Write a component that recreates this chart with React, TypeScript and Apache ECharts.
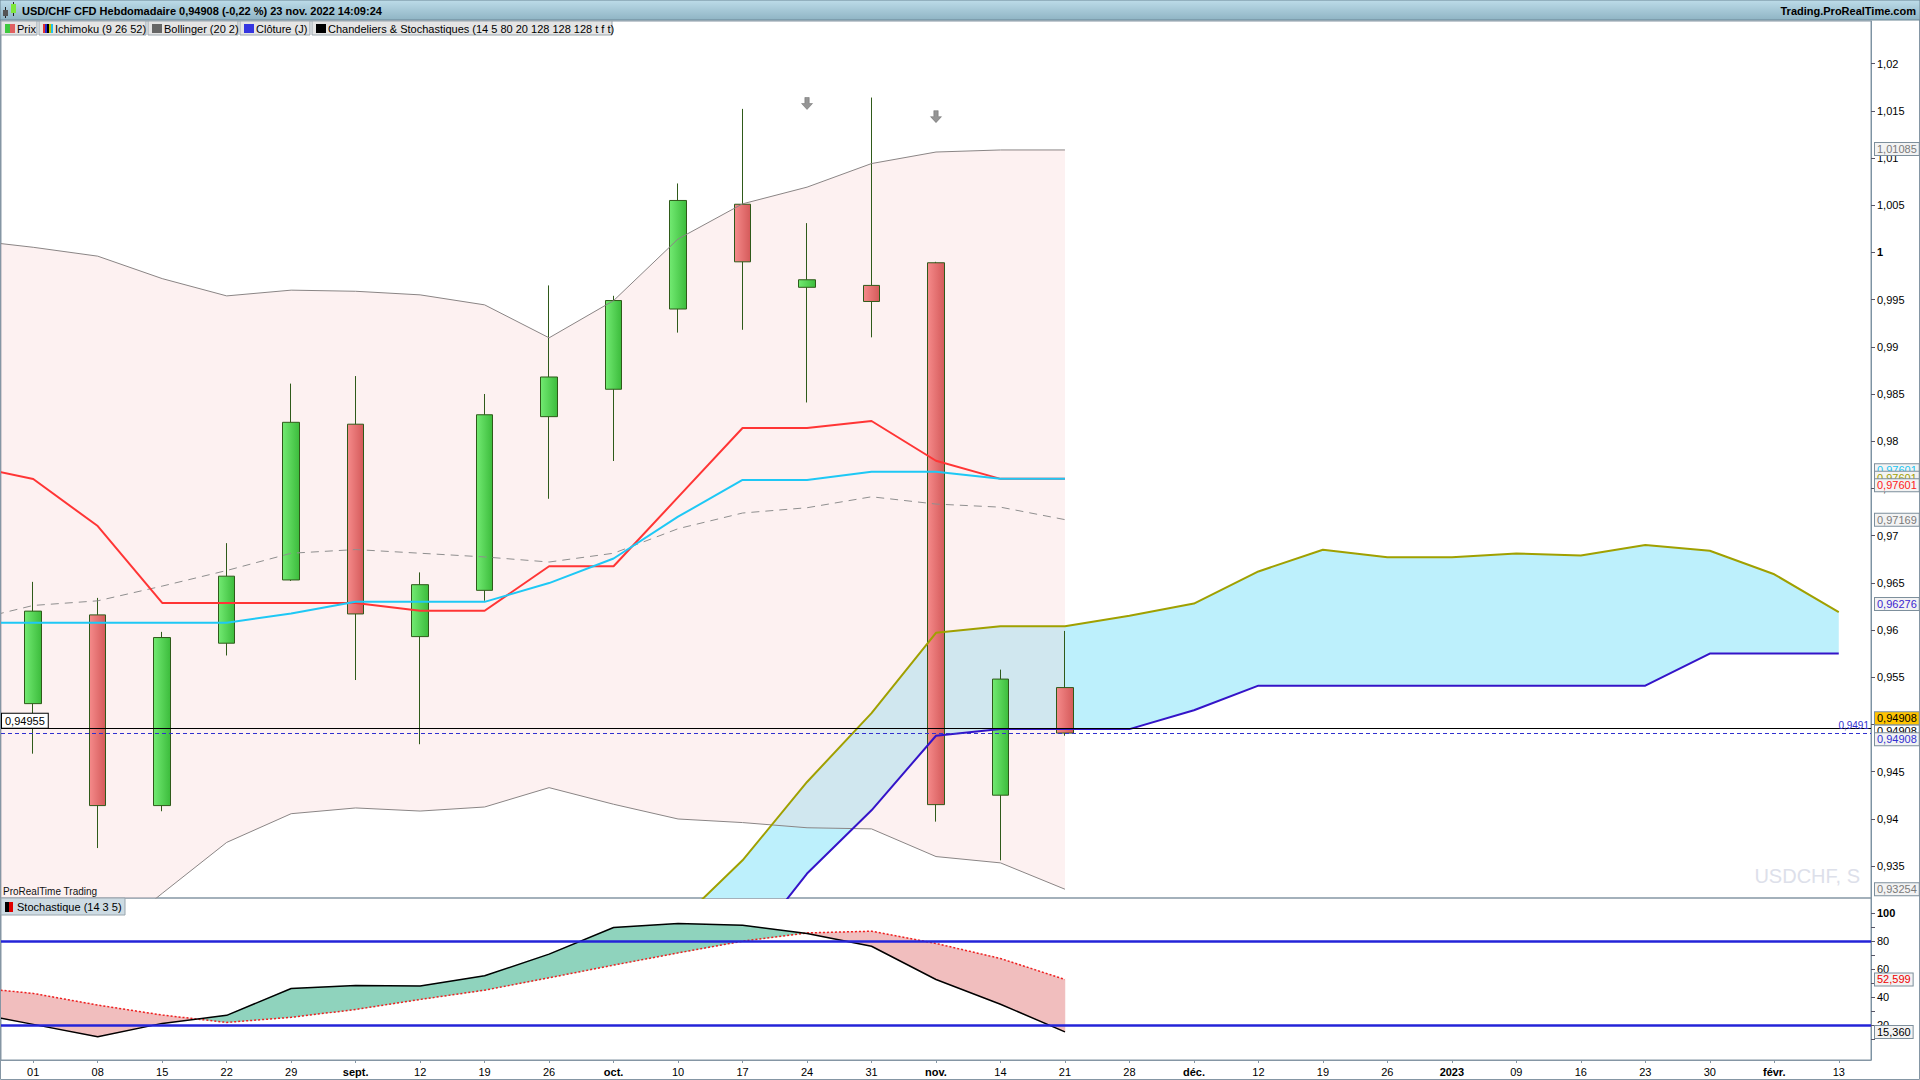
import React, { useEffect, useRef } from "react";
import * as echarts from "echarts";

const FONT = '"Liberation Sans", Arial, sans-serif';

// ---------- categories ----------
const weekDates = [
  "2022-08-01", "2022-08-08", "2022-08-15", "2022-08-22", "2022-08-29",
  "2022-09-05", "2022-09-12", "2022-09-19", "2022-09-26",
  "2022-10-03", "2022-10-10", "2022-10-17", "2022-10-24", "2022-10-31",
  "2022-11-07", "2022-11-14", "2022-11-21", "2022-11-28",
  "2022-12-05", "2022-12-12", "2022-12-19", "2022-12-26",
  "2023-01-02", "2023-01-09", "2023-01-16", "2023-01-23", "2023-01-30",
  "2023-02-06", "2023-02-13",
];
const weekLabels = [
  "01", "08", "15", "22", "29", "sept.", "12", "19", "26", "oct.", "10", "17", "24", "31",
  "nov.", "14", "21", "28", "déc.", "12", "19", "26", "2023", "09", "16", "23", "30", "févr.", "13",
];
const boldWeekLabels = ["sept.", "oct.", "nov.", "déc.", "2023", "févr."];

// ---------- candles (weekly, from 01 Aug to 21 Nov) ----------
const candleOpen = [0.9522, 0.9616, 0.9414, 0.9586, 0.9653, 0.9818, 0.9593, 0.9642, 0.9826, 0.9855, 0.9940, 1.0051, 0.9963, 0.9965, 0.9989, 0.9425, 0.9539];
const candleClose = [0.9620, 0.9414, 0.9592, 0.9657, 0.9820, 0.9617, 0.9648, 0.9828, 0.9868, 0.9949, 1.0055, 0.9990, 0.9971, 0.9948, 0.9415, 0.9548, 0.94908];
const candleLow = [0.9469, 0.9369, 0.9408, 0.9573, 0.9652, 0.9547, 0.9479, 0.9631, 0.9739, 0.9779, 0.9915, 0.9918, 0.9841, 0.9910, 0.9397, 0.9356, 0.9488];
const candleHigh = [0.9651, 0.9634, 0.9598, 0.9692, 0.9861, 0.9869, 0.9661, 0.9850, 0.9965, 0.9954, 1.0073, 1.0152, 1.0031, 1.0164, 0.9990, 0.9558, 0.9599];

// ---------- indicators (first value = week before "01") ----------
const IND_START = -1;
const bbUpper = [1.00132, 1.00054, 0.9996, 0.99722, 0.99539, 0.996, 0.99588, 0.9955, 0.99444, 0.99095, 0.99489, 1.00142, 1.00514, 1.00691, 1.00941, 1.01063, 1.01085, 1.01085];
const bbMiddle = [0.96093, 0.9626, 0.96309, 0.96465, 0.9663, 0.96813, 0.96852, 0.96813, 0.96774, 0.9672, 0.96813, 0.97073, 0.97239, 0.97295, 0.97411, 0.97334, 0.97301, 0.97169];
const bbLower = [0.9205, 0.9247, 0.9266, 0.9321, 0.9375, 0.94054, 0.94115, 0.94082, 0.94125, 0.9433, 0.94154, 0.93998, 0.9396, 0.93905, 0.93893, 0.936, 0.93533, 0.93254];
const tenkan = [0.97745, 0.97599, 0.97101, 0.96287, 0.96287, 0.96287, 0.96287, 0.96204, 0.96204, 0.96675, 0.96675, 0.97407, 0.9814, 0.9814, 0.98214, 0.97793, 0.97601, 0.97601];
const kijun = [0.96077, 0.96077, 0.96077, 0.96077, 0.96077, 0.96175, 0.96298, 0.96298, 0.96298, 0.96497, 0.96757, 0.972, 0.97589, 0.97589, 0.97677, 0.97677, 0.97601, 0.97601];

// Senkou spans (projected 26 weeks ahead), first value = week "10" (Oct)
const SENKOU_START = 10;
const senkouA = [0.929, 0.9356, 0.9439, 0.9512, 0.9597, 0.9604, 0.9604, 0.9615, 0.9628, 0.9662, 0.9685, 0.9677, 0.9677, 0.9681, 0.9679, 0.969, 0.9684, 0.9659, 0.9619];
const senkouB = [0.917, 0.9255, 0.9342, 0.9409, 0.9488, 0.9495, 0.9495, 0.9495, 0.9515, 0.9541, 0.9541, 0.9541, 0.9541, 0.9541, 0.9541, 0.9541, 0.9575, 0.9575, 0.9575];
// current (not yet projected) span values shown on the price scale
const senkouANow = 0.97601;
const senkouBNow = 0.96276;

// Stochastic (14 3 5), first value = week before "01"
const stochK = [29.4, 20.7, 11.9, 21.4, 27.1, 46.2, 48.4, 47.9, 55.2, 70.6, 89.5, 92.3, 91.1, 85.2, 76.2, 52.6, 35.0, 15.36];
const stochD = [47.2, 42.7, 34.4, 27.3, 22.1, 25.7, 31.3, 38.4, 45.0, 53.8, 62.8, 71.5, 79.8, 85.7, 86.9, 78.2, 67.5, 52.599];
const stochLevels = [80, 20];

// pattern signals (down arrows)
const arrowWeeks = [12, 14];
const arrowLevels = [1.01577, 1.01438];

// levels
const lastClose = 0.94908;
const hLineLevel = 0.94955;
const closeLineLevel = 0.9491;

// axis ticks
const priceTicks = [0.935, 0.94, 0.945, 0.95, 0.955, 0.96, 0.965, 0.97, 0.975, 0.98, 0.985, 0.99, 0.995, 1, 1.005, 1.01, 1.015, 1.02];
const stochTickValues = [10, 20, 30, 40, 50, 60, 70, 80, 90, 100];
const stochLabelValues = [20, 40, 60, 80, 100];

const toPairs = (start: number, arr: number[]) => arr.map((v, i) => [start + i, v]);
const fr = (v: number, d: number) => v.toFixed(d).replace(".", ",");

function bandRenderer(start: number, top: number[], bottom: number[], fill: string) {
  return (params: any, api: any) => {
    if (params.dataIndex !== 0) return null;
    const pts: number[][] = [];
    top.forEach((v, i) => pts.push(api.coord([start + i, v])));
    for (let i = bottom.length - 1; i >= 0; i--) pts.push(api.coord([start + i, bottom[i]]));
    return { type: "polygon", shape: { points: pts }, style: { fill } };
  };
}

function stochFillRenderer(start: number, k: number[], d: number[], up: string, down: string) {
  return (params: any, api: any) => {
    if (params.dataIndex !== 0) return null;
    const pts = k.map((kv, i) => ({
      k: api.coord([start + i, kv]),
      d: api.coord([start + i, d[i]]),
      diff: kv - d[i],
    }));
    const children: any[] = [];
    let curK: number[][] = [pts[0].k];
    let curD: number[][] = [pts[0].d];
    let sign = Math.sign(pts[0].diff);
    const flush = () => {
      const c = sign >= 0 ? up : down;
      children.push({
        type: "polygon",
        shape: { points: curK.concat(curD.slice().reverse()) },
        style: { fill: c, stroke: c, lineWidth: 0.5 },
      });
    };
    for (let i = 1; i < pts.length; i++) {
      const p = pts[i - 1];
      const c = pts[i];
      const s = Math.sign(c.diff);
      if (s !== 0 && sign !== 0 && s !== sign) {
        const t = p.diff / (p.diff - c.diff);
        const ix = [p.k[0] + t * (c.k[0] - p.k[0]), p.k[1] + t * (c.k[1] - p.k[1])];
        curK.push(ix);
        curD.push(ix);
        flush();
        curK = [ix];
        curD = [ix];
        sign = s;
      }
      curK.push(c.k);
      curD.push(c.d);
      if (sign === 0) sign = s;
    }
    flush();
    return { type: "group", children };
  };
}

const sq = (x: number, y: number, w: number, h: number, fill: string) => ({
  type: "rect",
  shape: { x, y, width: w, height: h },
  style: { fill },
  z: 101,
});

const legendBox = (x: number, w: number, y: number, h: number, text: string, icons: any[], bg: string) => [
  { type: "rect", shape: { x, y, width: w, height: h }, style: { fill: bg, stroke: "#9aa6ae", lineWidth: 1 }, z: 100 },
  ...icons,
  {
    type: "text",
    x: x + 16,
    y: y + h / 2 + 0.5,
    style: { text, font: `11px ${FONT}`, fill: "#000", textVerticalAlign: "middle", verticalAlign: "middle" },
    z: 101,
  },
];

function baseGraphic(): any[] {
  return [
    {
      type: "rect",
      shape: { x: 0, y: 0, width: 1920, height: 20 },
      style: {
        fill: new echarts.graphic.LinearGradient(0, 0, 0, 1, [
          { offset: 0, color: "#bddce9" },
          { offset: 1, color: "#8fb4c4" },
        ]),
        stroke: "#6b8594",
        lineWidth: 1,
      },
      z: 100,
    },
    { type: "line", shape: { x1: 5.5, y1: 7, x2: 5.5, y2: 18 }, style: { stroke: "#222", lineWidth: 1 }, z: 101 },
    sq(3, 10, 5, 6, "#555"),
    { type: "line", shape: { x1: 13.5, y1: 2, x2: 13.5, y2: 16 }, style: { stroke: "#222", lineWidth: 1 }, z: 101 },
    sq(11, 4, 5, 9, "#7ee63c"),
    {
      type: "text",
      x: 22,
      y: 10.5,
      style: {
        text: "USD/CHF CFD Hebdomadaire 0,94908 (-0,22 %) 23 nov. 2022 14:09:24",
        font: `bold 11px ${FONT}`,
        fill: "#000",
        textVerticalAlign: "middle",
        verticalAlign: "middle",
      },
      z: 101,
    },
    {
      type: "text",
      x: 1916,
      y: 10.5,
      style: {
        text: "Trading.ProRealTime.com",
        font: `bold 11px ${FONT}`,
        fill: "#000",
        textAlign: "right",
        align: "right",
        textVerticalAlign: "middle",
        verticalAlign: "middle",
      },
      z: 101,
    },
    ...legendBox(1, 36, 21, 14, "Prix", [sq(5, 24, 5, 9, "#3ec83e"), sq(10, 24, 5, 9, "#e06060")], "#e4e4e4"),
    ...legendBox(39, 107, 21, 14, "Ichimoku (9 26 52)", [
      sq(43, 24, 2, 9, "#e03030"), sq(45, 24, 2, 9, "#2a2ad0"), sq(47, 24, 2, 9, "#000"),
      sq(49, 24, 2, 9, "#c8c800"), sq(51, 24, 2, 9, "#20c0f0"),
    ], "#e4e4e4"),
    ...legendBox(148, 90, 21, 14, "Bollinger (20 2)", [sq(152, 24, 10, 9, "#666")], "#e4e4e4"),
    ...legendBox(240, 70, 21, 14, "Clôture (J)", [sq(244, 24, 10, 9, "#3535e0")], "#e4e4e4"),
    ...legendBox(312, 300, 21, 14, "Chandeliers & Stochastiques (14 5 80 20 128 128 128 t f t)", [sq(316, 24, 10, 9, "#000")], "#e4e4e4"),
    {
      type: "text",
      x: 3,
      y: 891,
      style: { text: "ProRealTime Trading", font: `10px ${FONT}`, fill: "#111", textVerticalAlign: "middle", verticalAlign: "middle" },
      z: 101,
    },
    {
      type: "text",
      x: 1860,
      y: 876,
      style: {
        text: "USDCHF, S",
        font: `20px ${FONT}`,
        fill: "#dde0ea",
        textAlign: "right",
        align: "right",
        textVerticalAlign: "middle",
        verticalAlign: "middle",
      },
      z: 50,
    },
    ...legendBox(1, 124, 898, 17, "Stochastique (14 3 5)", [sq(5, 902, 4, 10, "#000"), sq(9, 902, 4, 10, "#e00000")], "#cddbe3"),
    { type: "rect", shape: { x: 0.5, y: 0.5, width: 1919, height: 1079 }, style: { fill: "none", stroke: "#8596a4", lineWidth: 1 }, z: 99 },
  ];
}

// value boxes on the right scales: [axis, value, text, color, background, vertical nudge px]
const valueBoxes: [number, number, string, string, string, number][] = [
  [0, bbUpper[bbUpper.length - 1], fr(bbUpper[bbUpper.length - 1], 5), "#7a7a7a", "#f3f3f3", -1],
  [0, kijun[kijun.length - 1], fr(kijun[kijun.length - 1], 5), "#19c4f2", "#f3f3f3", -8.5],
  [0, senkouANow, fr(senkouANow, 5), "#a0a000", "#f3f3f3", -1],
  [0, tenkan[tenkan.length - 1], fr(tenkan[tenkan.length - 1], 5), "#ff2020", "#f3f3f3", 6.3],
  [0, bbMiddle[bbMiddle.length - 1], fr(bbMiddle[bbMiddle.length - 1], 5), "#7a7a7a", "#f3f3f3", 0],
  [0, senkouBNow, fr(senkouBNow, 5), "#3b1fd0", "#f3f3f3", 0],
  [0, lastClose, fr(lastClose, 5), "#000", "#ffffff", -1.6],
  [0, lastClose, fr(lastClose, 5), "#000", "#ffc400", -14.8],
  [0, lastClose, fr(lastClose, 5), "#3030d0", "#f3f3f3", 6.2],
  [0, bbLower[bbLower.length - 1], fr(bbLower[bbLower.length - 1], 5), "#7a7a7a", "#f3f3f3", 0],
  [1, stochD[stochD.length - 1], fr(stochD[stochD.length - 1], 3), "#ee0000", "#f3f3f3", 0],
  [1, stochK[stochK.length - 1], fr(stochK[stochK.length - 1], 3), "#000", "#f3f3f3", 0],
];

function buildOption() {
  const greenBody = new echarts.graphic.LinearGradient(0, 0, 1, 0, [
    { offset: 0, color: "#72ea72" },
    { offset: 1, color: "#3cbc3c" },
  ]);
  const redBody = new echarts.graphic.LinearGradient(0, 0, 1, 0, [
    { offset: 0, color: "#f58a8a" },
    { offset: 1, color: "#d45a5a" },
  ]);

  const priceFormatter = (v: number) => {
    const s = parseFloat(v.toFixed(4)).toString().replace(".", ",");
    return Math.abs(v - 1) < 1e-9 ? `{b|${s}}` : s;
  };

  const lineBase = {
    type: "line",
    xAxisIndex: 1,
    yAxisIndex: 0,
    symbol: "none",
    showSymbol: false,
    clip: true,
    silent: true,
    z: 3,
  };

  const yAxisCommon = {
    type: "value",
    position: "right",
    axisLine: { show: true, onZero: false, lineStyle: { color: "#7d93a3" } },
    splitLine: { show: false },
  };

  const option: any = {
    animation: false,
    backgroundColor: "#ffffff",
    textStyle: { fontFamily: FONT },
    graphic: baseGraphic(),
    grid: [
      { left: 1, right: 49, top: 21, bottom: 182, show: true, borderColor: "#8596a4", borderWidth: 1, backgroundColor: "transparent" },
      { left: 1, right: 49, top: 898, bottom: 20, show: true, borderColor: "#8596a4", borderWidth: 1, backgroundColor: "transparent" },
    ],
    xAxis: [
      { type: "category", gridIndex: 0, data: weekDates, show: false, boundaryGap: true, axisLine: { onZero: false } },
      { type: "value", gridIndex: 0, min: -0.5, max: 28.5, show: false, splitLine: { show: false }, axisLine: { onZero: false } },
      {
        type: "category",
        gridIndex: 1,
        data: weekDates,
        boundaryGap: true,
        axisLine: { show: true, onZero: false, lineStyle: { color: "#8596a4" } },
        axisTick: { show: true, alignWithLabel: true, length: 3, lineStyle: { color: "#8596a4" } },
        axisLabel: {
          interval: 0,
          margin: 6,
          fontSize: 11,
          color: "#000",
          fontFamily: FONT,
          formatter: (_v: string, i: number) =>
            boldWeekLabels.includes(weekLabels[i]) ? `{b|${weekLabels[i]}}` : weekLabels[i],
          rich: { b: { fontWeight: "bold", fontSize: 11, fontFamily: FONT, color: "#000" } },
        },
        splitLine: { show: false },
      },
      { type: "value", gridIndex: 1, min: -0.5, max: 28.5, show: false, splitLine: { show: false }, axisLine: { onZero: false } },
    ],
    yAxis: [
      {
        ...yAxisCommon,
        gridIndex: 0,
        min: 0.93161,
        max: 1.02451,
        axisTick: { show: true, length: 4, customValues: priceTicks, lineStyle: { color: "#556" } },
        axisLabel: {
          customValues: priceTicks,
          margin: 6,
          fontSize: 11,
          color: "#000",
          fontFamily: FONT,
          formatter: priceFormatter,
          rich: { b: { fontWeight: "bold", fontSize: 11, fontFamily: FONT, color: "#000" } },
        },
      },
      {
        ...yAxisCommon,
        gridIndex: 1,
        min: -4.62,
        max: 110.5,
        axisTick: { show: true, length: 4, customValues: stochTickValues, lineStyle: { color: "#556" } },
        axisLabel: {
          customValues: stochLabelValues,
          margin: 6,
          fontSize: 11,
          color: "#000",
          fontFamily: FONT,
          formatter: (v: number) => (v === 100 ? "{b|100}" : String(v)),
          rich: { b: { fontWeight: "bold", fontSize: 11, fontFamily: FONT, color: "#000" } },
        },
      },
    ],
    series: [
      {
        type: "custom",
        name: "cloud",
        xAxisIndex: 1,
        yAxisIndex: 0,
        clip: true,
        silent: true,
        z: 1,
        data: [[SENKOU_START, senkouA[0]]],
        encode: { x: 0, y: 1 },
        renderItem: bandRenderer(SENKOU_START, senkouA, senkouB, "#bdf0fc"),
      },
      {
        type: "custom",
        name: "bbfill",
        xAxisIndex: 1,
        yAxisIndex: 0,
        clip: true,
        silent: true,
        z: 1,
        data: [[IND_START, bbUpper[0]]],
        encode: { x: 0, y: 1 },
        renderItem: bandRenderer(IND_START, bbUpper, bbLower, "rgba(249,211,211,0.32)"),
      },
      {
        type: "candlestick",
        name: "Prix",
        xAxisIndex: 0,
        yAxisIndex: 0,
        barWidth: 17,
        silent: true,
        z: 2,
        data: candleOpen.map((o, i) => [o, candleClose[i], candleLow[i], candleHigh[i]]),
        itemStyle: {
          color: greenBody,
          color0: redBody,
          borderColor: "#2f5a1a",
          borderColor0: "#2f5a1a",
          borderWidth: 1,
        },
      },
      { ...lineBase, name: "bbUpper", data: toPairs(IND_START, bbUpper), lineStyle: { color: "#8a8585", width: 1 } },
      { ...lineBase, name: "bbMiddle", data: toPairs(IND_START, bbMiddle), lineStyle: { color: "#8f8f8f", width: 1, type: [8, 6] } },
      { ...lineBase, name: "bbLower", data: toPairs(IND_START, bbLower), lineStyle: { color: "#8a8585", width: 1 } },
      {
        ...lineBase,
        name: "senkouB",
        data: toPairs(SENKOU_START, senkouB),
        lineStyle: { color: "#3414c8", width: 2 },
        markLine: {
          silent: true,
          precision: 5,
          symbol: ["none", "none"],
          data: [
            {
              yAxis: hLineLevel,
              lineStyle: { color: "#000", width: 1, type: "solid" },
              label: {
                show: true,
                position: "insideStartTop",
                formatter: fr(hLineLevel, 5),
                color: "#000",
                backgroundColor: "#fff",
                borderColor: "#000",
                borderWidth: 1,
                padding: [2, 3, 1, 3],
                fontSize: 11,
                fontFamily: FONT,
                distance: 1,
              },
            },
            {
              yAxis: closeLineLevel,
              lineStyle: { color: "#3030d0", width: 1, type: [4, 3] },
              label: {
                show: true,
                position: "insideEndTop",
                formatter: fr(closeLineLevel, 4),
                color: "#3030d0",
                fontSize: 10,
                fontFamily: FONT,
                distance: 2,
              },
            },
          ],
        },
      },
      { ...lineBase, name: "senkouA", data: toPairs(SENKOU_START, senkouA), lineStyle: { color: "#a0a000", width: 2 } },
      { ...lineBase, name: "tenkan", data: toPairs(IND_START, tenkan), lineStyle: { color: "#ff3535", width: 2 } },
      { ...lineBase, name: "kijun", data: toPairs(IND_START, kijun), lineStyle: { color: "#1ec8f5", width: 2 } },
      {
        type: "scatter",
        xAxisIndex: 1,
        yAxisIndex: 0,
        silent: true,
        z: 4,
        symbol: "path://M3,0H7V5H10L5,10L0,5H3Z",
        symbolSize: [11, 12],
        itemStyle: { color: "#7a7a7a", borderColor: "#555", borderWidth: 0.5 },
        data: arrowWeeks.map((w, i) => [w, arrowLevels[i]]),
      },
      {
        type: "custom",
        name: "stochfill",
        xAxisIndex: 3,
        yAxisIndex: 1,
        clip: true,
        silent: true,
        z: 1,
        data: [[IND_START, stochK[0]]],
        encode: { x: 0, y: 1 },
        renderItem: stochFillRenderer(IND_START, stochK, stochD, "#8fd3bd", "#f1bebe"),
      },
      {
        type: "line",
        name: "stochD",
        xAxisIndex: 3,
        yAxisIndex: 1,
        symbol: "none",
        clip: true,
        silent: true,
        z: 3,
        data: toPairs(IND_START, stochD),
        lineStyle: { color: "#ee2020", width: 1.5, type: [2, 2] },
      },
      {
        type: "line",
        name: "stochK",
        xAxisIndex: 3,
        yAxisIndex: 1,
        symbol: "none",
        clip: true,
        silent: true,
        z: 3,
        data: toPairs(IND_START, stochK),
        lineStyle: { color: "#000", width: 1.5 },
        markLine: {
          silent: true,
          precision: 3,
          symbol: ["none", "none"],
          data: stochLevels.map((lv) => ({
            yAxis: lv,
            lineStyle: { color: "#2424d8", width: 2.5, type: "solid" },
            label: { show: false },
          })),
        },
      },
    ],
  };
  return option;
}

export default function App() {
  const ref = useRef<HTMLDivElement>(null);
  useEffect(() => {
    document.body.style.margin = "0";
    if (!ref.current) return;
    const chart = echarts.init(ref.current, undefined, { renderer: "svg" });
    const option = buildOption();
    chart.setOption(option);
    // value boxes on the right-hand scales, positioned through the axes' own scales
    const boxes = valueBoxes.map(([axis, value, text, color, bg, dy]) => {
      const y = chart.convertToPixel({ yAxisIndex: axis } as any, value) as unknown as number;
      return {
        type: "text",
        x: 1875,
        y: y + dy,
        style: {
          text,
          font: `11px ${FONT}`,
          fill: color,
          backgroundColor: bg,
          borderColor: "#7d8f9c",
          borderWidth: 1,
          padding: [1, 2, 0, 2],
          textVerticalAlign: "middle",
          verticalAlign: "middle",
        },
        z: 120,
      };
    });
    chart.setOption({ graphic: [...baseGraphic(), ...boxes] });
    return () => chart.dispose();
  }, []);
  return <div ref={ref} style={{ width: 1920, height: 1080 }} />;
}
